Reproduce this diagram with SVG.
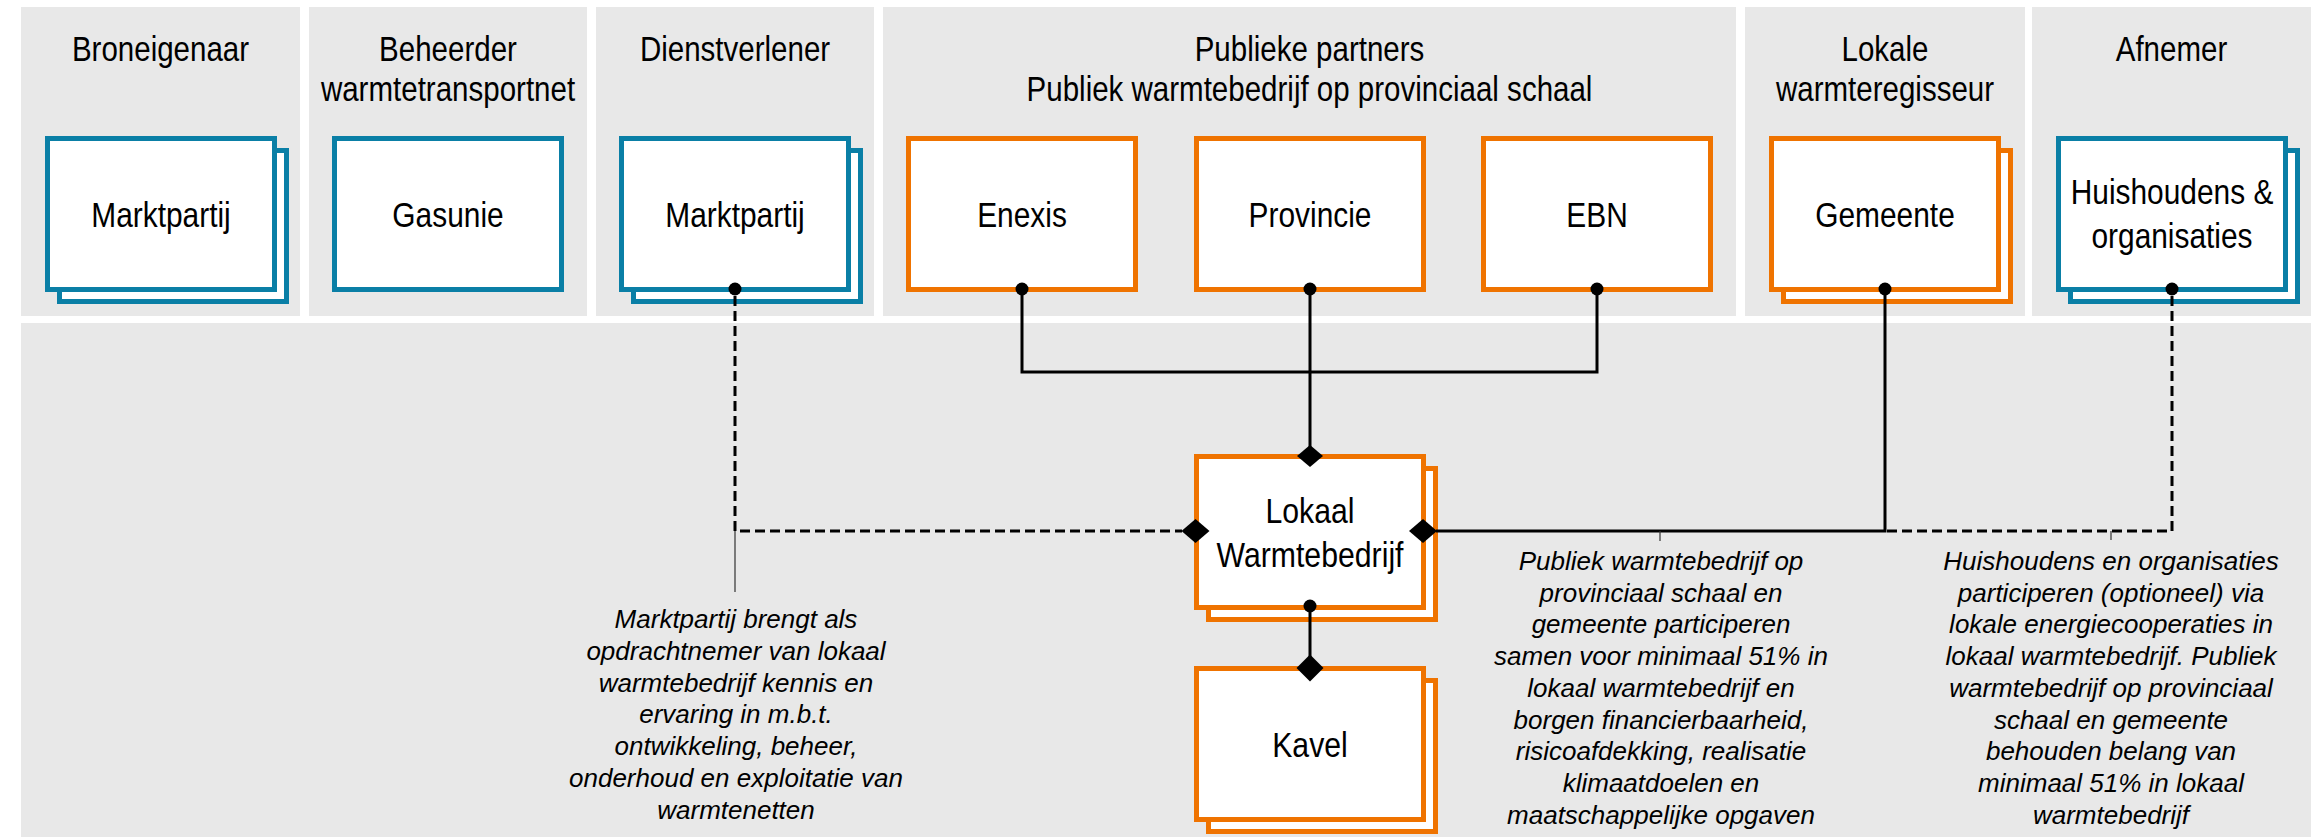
<svg xmlns="http://www.w3.org/2000/svg" width="2322" height="839" viewBox="0 0 2322 839">
<defs>
<style>
.panel{fill:#e8e8e8}
.hdr{font-family:"Liberation Sans",Arial,sans-serif;font-size:36px;fill:#000;text-anchor:middle}
.note{font-family:"Liberation Sans",Arial,sans-serif;font-style:italic;font-size:26px;fill:#000;text-anchor:middle}
.bb{fill:#fff;stroke:#0a7fa6;stroke-width:5}
.ob{fill:#fff;stroke:#ef7300;stroke-width:5}
.ln{stroke:#000;stroke-width:3;fill:none}
.dl{stroke:#000;stroke-width:3;fill:none;stroke-dasharray:10 5}
.lead{stroke:#333;stroke-width:1.2;fill:none}
.mk{fill:#000}
</style>
</defs>
<rect width="2322" height="839" fill="#fff"/>
<g id="lanes">
<rect class="panel" x="21" y="7" width="279" height="309"/>
<rect class="panel" x="309" y="7" width="278" height="309"/>
<rect class="panel" x="596" y="7" width="278" height="309"/>
<rect class="panel" x="883" y="7" width="853" height="309"/>
<rect class="panel" x="1745" y="7" width="280" height="309"/>
<rect class="panel" x="2032" y="7" width="279" height="309"/>
<rect class="panel" x="21" y="323" width="2290" height="514"/>
<text class="hdr" transform="translate(160.5,61) scale(0.82,1)">Broneigenaar</text>
<text class="hdr" transform="translate(448,61) scale(0.82,1)">Beheerder</text>
<text class="hdr" transform="translate(448,101) scale(0.82,1)">warmtetransportnet</text>
<text class="hdr" transform="translate(735,61) scale(0.82,1)">Dienstverlener</text>
<text class="hdr" transform="translate(1309.5,61) scale(0.82,1)">Publieke partners</text>
<text class="hdr" transform="translate(1309.5,101) scale(0.82,1)">Publiek warmtebedrijf op provinciaal schaal</text>
<text class="hdr" transform="translate(1885,61) scale(0.82,1)">Lokale</text>
<text class="hdr" transform="translate(1885,101) scale(0.82,1)">warmteregisseur</text>
<text class="hdr" transform="translate(2171.5,61) scale(0.82,1)">Afnemer</text>
</g>
<g id="n-broneigenaar">
<rect class="bb" x="59.5" y="150.5" width="227" height="151"/>
<rect class="bb" x="47.5" y="138.5" width="227" height="151"/>
<text class="hdr" transform="translate(161,227) scale(0.83,1)">Marktpartij</text>
</g>
<g id="n-gasunie">
<rect class="bb" x="334.5" y="138.5" width="227" height="151"/>
<text class="hdr" transform="translate(448,227) scale(0.83,1)">Gasunie</text>
</g>
<g id="n-dienstverlener">
<rect class="bb" x="633.5" y="150.5" width="227" height="151"/>
<rect class="bb" x="621.5" y="138.5" width="227" height="151"/>
<text class="hdr" transform="translate(735,227) scale(0.83,1)">Marktpartij</text>
</g>
<g id="n-enexis">
<rect class="ob" x="908.5" y="138.5" width="227" height="151"/>
<text class="hdr" transform="translate(1022,227) scale(0.83,1)">Enexis</text>
</g>
<g id="n-provincie">
<rect class="ob" x="1196.5" y="138.5" width="227" height="151"/>
<text class="hdr" transform="translate(1310,227) scale(0.83,1)">Provincie</text>
</g>
<g id="n-ebn">
<rect class="ob" x="1483.5" y="138.5" width="227" height="151"/>
<text class="hdr" transform="translate(1597,227) scale(0.83,1)">EBN</text>
</g>
<g id="n-gemeente">
<rect class="ob" x="1783.5" y="150.5" width="227" height="151"/>
<rect class="ob" x="1771.5" y="138.5" width="227" height="151"/>
<text class="hdr" transform="translate(1885,227) scale(0.83,1)">Gemeente</text>
</g>
<g id="n-huishoudens">
<rect class="bb" x="2070.5" y="150.5" width="227" height="151"/>
<rect class="bb" x="2058.5" y="138.5" width="227" height="151"/>
<text class="hdr" transform="translate(2172,204) scale(0.83,1)">Huishoudens &amp;</text>
<text class="hdr" transform="translate(2172,248) scale(0.83,1)">organisaties</text>
</g>
<g id="n-lokaal">
<rect class="ob" x="1208.5" y="468.5" width="227" height="151"/>
<rect class="ob" x="1196.5" y="456.5" width="227" height="151"/>
<text class="hdr" transform="translate(1310,523) scale(0.84,1)">Lokaal</text>
<text class="hdr" transform="translate(1310,567) scale(0.84,1)">Warmtebedrijf</text>
</g>
<g id="n-kavel">
<rect class="ob" x="1208.5" y="680.5" width="227" height="151"/>
<rect class="ob" x="1196.5" y="668.5" width="227" height="151"/>
<text class="hdr" transform="translate(1310,757) scale(0.84,1)">Kavel</text>
</g>
<g id="connectors">
<path class="ln" d="M1022,292 V372 H1597 V292"/>
<path class="ln" d="M1310,292 V448"/>
<path class="ln" d="M1310,610 V658"/>
<path class="ln" d="M1436,531 H1885 V292"/>
<path class="dl" d="M735,296 V531 H1182"/>
<path class="dl" d="M2172,296 V531 H1885"/>
<circle class="mk" cx="735" cy="289" r="6.5"/>
<circle class="mk" cx="1022" cy="289" r="6.5"/>
<circle class="mk" cx="1310" cy="289" r="6.5"/>
<circle class="mk" cx="1597" cy="289" r="6.5"/>
<circle class="mk" cx="1885" cy="289" r="6.5"/>
<circle class="mk" cx="2172" cy="289" r="6.5"/>
<circle class="mk" cx="1310" cy="606" r="6.5"/>
<polygon class="mk" points="1297,456 1310,445 1323,456 1310,467"/>
<polygon class="mk" points="1181.5,531 1195.5,519 1209.5,531 1195.5,543"/>
<polygon class="mk" points="1409,531 1423,519 1437,531 1423,543"/>
<polygon class="mk" points="1296.5,668 1310,654.5 1323.5,668 1310,681.5"/>
<path class="lead" d="M735,531 V592 M1660,531 V541 M2111,531 V540"/>
</g>
<g id="notes">
<text class="note" y="628"><tspan x="736">Marktpartij brengt als</tspan><tspan x="736" dy="31.8">opdrachtnemer van lokaal</tspan><tspan x="736" dy="31.8">warmtebedrijf kennis en</tspan><tspan x="736" dy="31.8">ervaring in m.b.t.</tspan><tspan x="736" dy="31.8">ontwikkeling, beheer,</tspan><tspan x="736" dy="31.8">onderhoud en exploitatie van</tspan><tspan x="736" dy="31.8">warmtenetten</tspan></text>
<text class="note" y="570"><tspan x="1661">Publiek warmtebedrijf op</tspan><tspan x="1661" dy="31.7">provinciaal schaal en</tspan><tspan x="1661" dy="31.7">gemeente participeren</tspan><tspan x="1661" dy="31.7">samen voor minimaal 51% in</tspan><tspan x="1661" dy="31.7">lokaal warmtebedrijf en</tspan><tspan x="1661" dy="31.7">borgen financierbaarheid,</tspan><tspan x="1661" dy="31.7">risicoafdekking, realisatie</tspan><tspan x="1661" dy="31.7">klimaatdoelen en</tspan><tspan x="1661" dy="31.7">maatschappelijke opgaven</tspan></text>
<text class="note" y="570"><tspan x="2111">Huishoudens en organisaties</tspan><tspan x="2111" dy="31.7">participeren (optioneel) via</tspan><tspan x="2111" dy="31.7">lokale energiecooperaties in</tspan><tspan x="2111" dy="31.7">lokaal warmtebedrijf. Publiek</tspan><tspan x="2111" dy="31.7">warmtebedrijf op provinciaal</tspan><tspan x="2111" dy="31.7">schaal en gemeente</tspan><tspan x="2111" dy="31.7">behouden belang van</tspan><tspan x="2111" dy="31.7">minimaal 51% in lokaal</tspan><tspan x="2111" dy="31.7">warmtebedrijf</tspan></text>
</g>
</svg>
